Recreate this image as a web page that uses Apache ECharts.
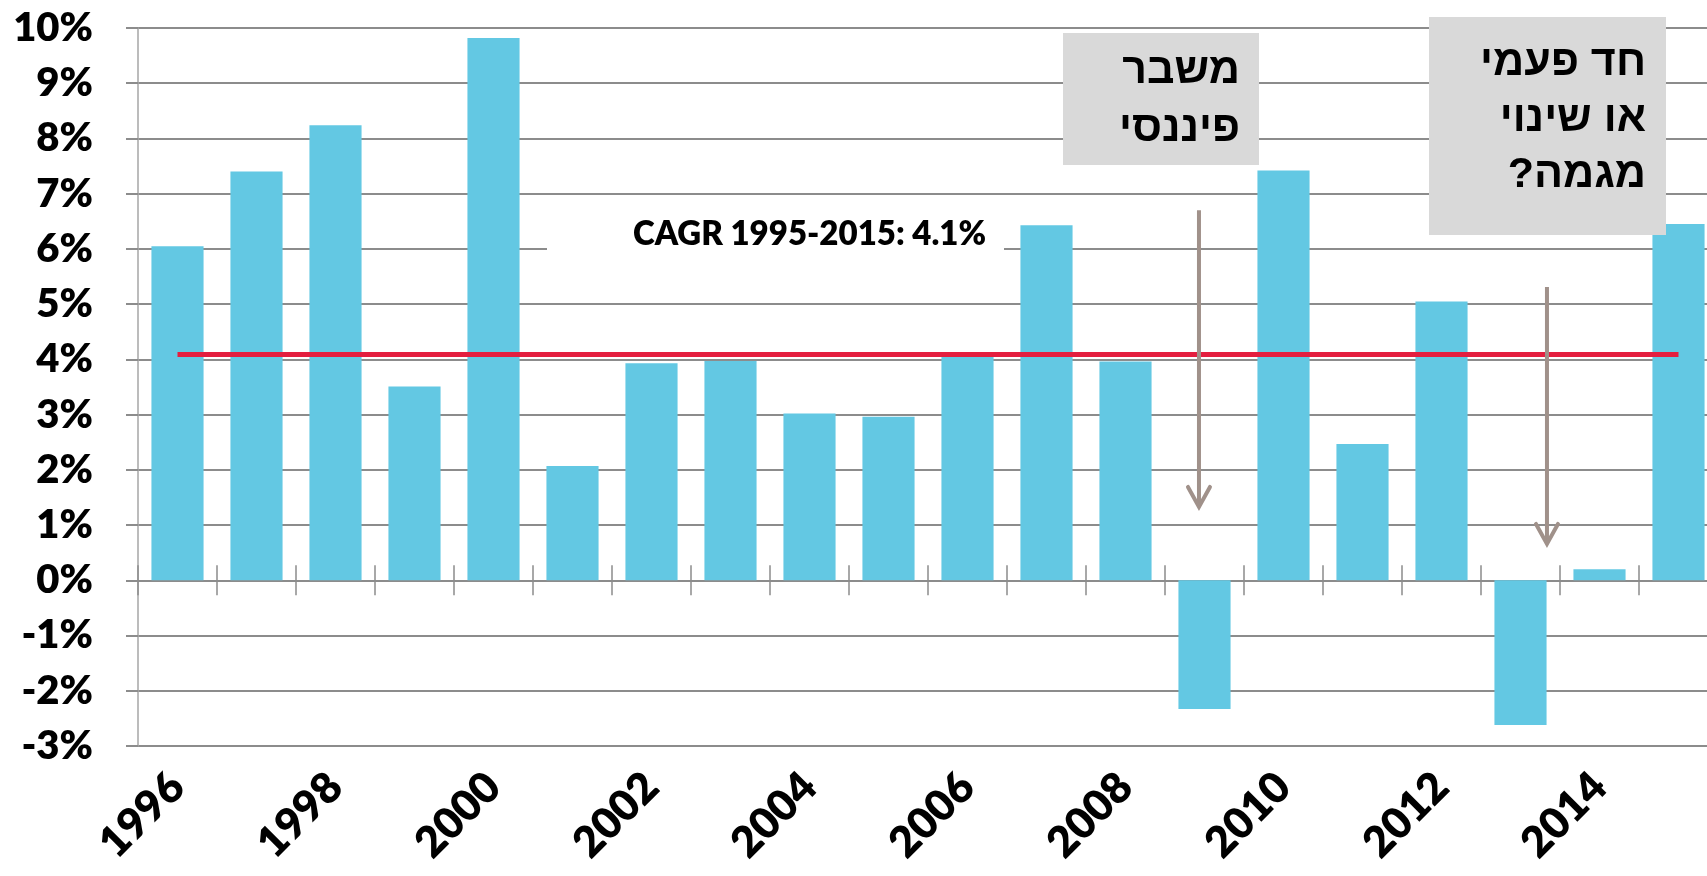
<!DOCTYPE html>
<html>
<head>
<meta charset="utf-8">
<script src="https://cdn.jsdelivr.net/npm/echarts@6/dist/echarts.min.js"></script>
<style>
html, body { margin: 0; padding: 0; background: #fff; }
#chart { width: 1707px; height: 876px; }
</style>
</head>
<body>
<div id="chart"></div>
<script>
const years = ['1996', '1997', '1998', '1999', '2000', '2001', '2002', '2003', '2004', '2005',
  '2006', '2007', '2008', '2009', '2010', '2011', '2012', '2013', '2014', '2015']
const growth = [6.05, 7.4, 8.24, 3.51, 9.82, 2.07, 3.93, 3.97, 3.02, 2.96,
  4.05, 6.43, 3.96, -2.33, 7.42, 2.47, 5.05, -2.62, 0.2, 6.45]
const cagr = 4.1
const cagrText = 'CAGR 1995-2015: 4.1%'
const yMin = -3
const yMax = 10
const yStep = 1

// arrows: category, shift in bands, from value, to value
const arrows = [
  { cat: 13, shift: -0.07, from: 6.7, to: 1.31 },
  { cat: 17, shift: 0.335, from: 5.31, to: 0.64 }
]
const notes = [
  { text: 'משבר\nפיננסי', box: [1063, 33, 196, 132], right: 1240, mid: 100, lh: 58 },
  { text: 'חד פעמי\nאו שינוי\nמגמה?\u200F', box: [1429, 17, 237, 218], right: 1646, mid: 119, lh: 56 }
]

const chart = echarts.init(document.getElementById('chart'))
const gray = '#8c8c8c'
const latoBold = { fontFamily: 'Lato', fontWeight: 800, color: '#000' }

let option = {
  animation: false,
  grid: { left: 138, top: 28, right: -11, bottom: 130, outerBoundsMode: 'none' },
  xAxis: [
    {
      type: 'category', data: years, position: 'bottom',
      axisLine: { show: false, onZero: false },
      axisTick: { show: false },
      axisLabel: Object.assign({ interval: 1, rotate: 45, margin: 34, fontSize: 43 }, latoBold)
    },
    {
      type: 'category', data: years, position: 'bottom',
      axisLine: { show: true, onZero: true, onZeroAxisIndex: 0, lineStyle: { color: gray, width: 2 } },
      axisTick: { show: true, interval: 0, length: 15, lineStyle: { color: gray, width: 1.5 } },
      axisLabel: { show: false }
    },
    {
      type: 'category', data: years, position: 'bottom',
      axisLine: { show: false, onZero: true, onZeroAxisIndex: 0 },
      axisTick: { show: true, inside: true, interval: 0, length: 15, lineStyle: { color: gray, width: 1.5 } },
      axisLabel: { show: false }
    }
  ],
  yAxis: {
    type: 'value', min: yMin, max: yMax, interval: yStep,
    axisLine: { show: true, lineStyle: { color: '#a6a6a6', width: 1.5 } },
    axisTick: { show: true, length: 12, lineStyle: { color: gray, width: 2 } },
    splitLine: { show: true, lineStyle: { color: gray, width: 2 } },
    axisLabel: Object.assign({ formatter: '{value}%', margin: 45, fontSize: 40 }, latoBold)
  },
  series: [{
    type: 'bar',
    xAxisIndex: 0,
    data: growth,
    barCategoryGap: '34%',
    itemStyle: { color: '#63C8E3' },
    markLine: {
      silent: true,
      symbol: 'none',
      label: { show: false },
      lineStyle: { color: '#E41E3F', width: 5, type: 'solid' },
      data: [[{ coord: [0, cagr] }, { coord: [years.length - 1, cagr] }]]
    }
  }]
}
chart.setOption(option)

const toPx = (i, v) => chart.convertToPixel({ seriesIndex: 0 }, [i, v])
const band = toPx(1, 0)[0] - toPx(0, 0)[0]
const arrowColor = '#A0918A'

let elements = [
  { type: 'rect', z: 20, shape: { x: 547, y: 205, width: 457, height: 57 }, style: { fill: '#fff' } },
  {
    type: 'text', z: 21, x: 633, y: 234,
    style: { text: cagrText, fontFamily: 'Lato', fontWeight: 800, fontSize: 33, fill: '#000', verticalAlign: 'middle', align: 'left' }
  }
]
notes.forEach(n => {
  elements.push({ type: 'rect', z: 20, shape: { x: n.box[0], y: n.box[1], width: n.box[2], height: n.box[3] }, style: { fill: '#d9d9d9' } })
  elements.push({
    type: 'text', z: 21, x: n.right, y: n.mid,
    style: {
      text: n.text, fontFamily: 'Liberation Sans', fontWeight: 'bold', fontSize: 43, lineHeight: n.lh,
      fill: '#000', align: 'right', verticalAlign: 'middle'
    }
  })
})
arrows.forEach(a => {
  const x = toPx(a.cat, 0)[0] + a.shift * band
  const y1 = toPx(a.cat, a.from)[1]
  const y2 = toPx(a.cat, a.to)[1]
  elements.push({ type: 'line', z: 22, shape: { x1: x, y1: y1, x2: x, y2: y2 - 2 }, style: { stroke: arrowColor, lineWidth: 4 } })
  elements.push({
    type: 'polyline', z: 22,
    shape: { points: [[x - 11, y2 - 21], [x, y2 - 1], [x + 11, y2 - 21]] },
    style: { stroke: arrowColor, lineWidth: 4, fill: null, lineCap: 'round', lineJoin: 'miter' }
  })
})
chart.setOption({ graphic: { elements: elements } })
</script>
</body>
</html>
